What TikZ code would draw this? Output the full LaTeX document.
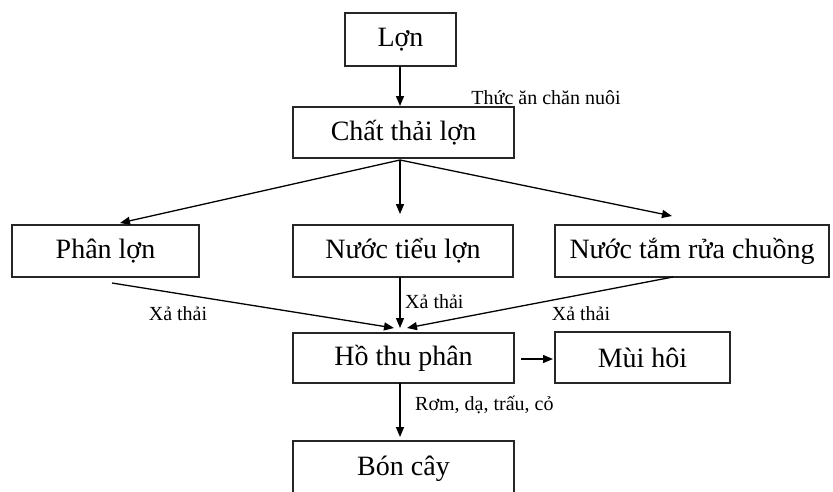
\documentclass[tikz,border=0pt]{standalone}
\usepackage{fontspec}
\setmainfont{Liberation Serif}
\usetikzlibrary{arrows.meta}
\begin{document}
\begin{tikzpicture}[x=1pt,y=-1pt,
  box/.style={draw=black!85, line width=1.3pt, inner sep=0pt, font=\fontsize{28}{30}\selectfont},
  lbl/.style={font=\fontsize{20}{22}\selectfont, inner sep=0pt},
  arr/.style={line width=1.3pt, -{Triangle[length=10pt,width=8pt]}}]
\clip (0,0) rectangle (833,491);
\fill[white] (0,0) rectangle (833,491);
% boxes
\node[box, minimum width=111pt, minimum height=53pt] (lon) at (400.5,39.5) {Lợn};
\node[box, minimum width=221pt, minimum height=51pt] (chat) at (403.5,132.5) {Chất thải lợn};
\node[box, minimum width=187pt, minimum height=52pt] (phan) at (105.5,251) {Phân lợn};
\node[box, minimum width=220pt, minimum height=52pt] (nuoc) at (403,251) {Nước tiểu lợn};
\node[box, minimum width=274pt, minimum height=52pt] (tam) at (692,251) {Nước tắm rửa chuồng};
\node[box, minimum width=221pt, minimum height=50pt] (ho) at (403.5,358) {Hồ thu phân};
\node[box, minimum width=175pt, minimum height=51pt] (mui) at (642.5,357.5) {Mùi hôi};
\node[box, minimum width=221pt, minimum height=56pt] (bon) at (403.5,469) {Bón cây};
% coordinates
\coordinate (lonB) at (400,66);
\coordinate (chatT) at (400,106);
\coordinate (fan) at (400,160);
\coordinate (pA) at (120,223);
\coordinate (pB) at (400,214);
\coordinate (pC) at (672,216);
\coordinate (sA) at (112,283);
\coordinate (sB) at (400,277);
\coordinate (sC) at (673,277);
\coordinate (eA) at (394,328);
\coordinate (eB) at (400,328);
\coordinate (eC) at (407,328);
\coordinate (hoR) at (521,359);
\coordinate (muiL) at (553,359);
\coordinate (hoB) at (400,383);
\coordinate (bonT) at (400,437);
% connectors
\draw[arr] (lonB) -- (chatT);
\draw[arr] (fan) -- (pA);
\draw[arr] (fan) -- (pB);
\draw[arr] (fan) -- (pC);
\draw[arr] (sA) -- (eA);
\draw[arr] (sB) -- (eB);
\draw[arr] (sC) -- (eC);
\draw[arr] (hoR) -- (muiL);
\draw[arr] (hoB) -- (bonT);
% labels
\node[lbl] (l1) at (546,98) {Thức ăn chăn nuôi};
\node[lbl] (l2) at (178,314) {Xả thải};
\node[lbl, anchor=west] (l3) at (405,302) {Xả thải};
\node[lbl] (l4) at (581,314) {Xả thải};
\node[lbl, anchor=west] (l5) at (415,405) {Rơm, dạ, trấu, cỏ};
\end{tikzpicture}
\end{document}
